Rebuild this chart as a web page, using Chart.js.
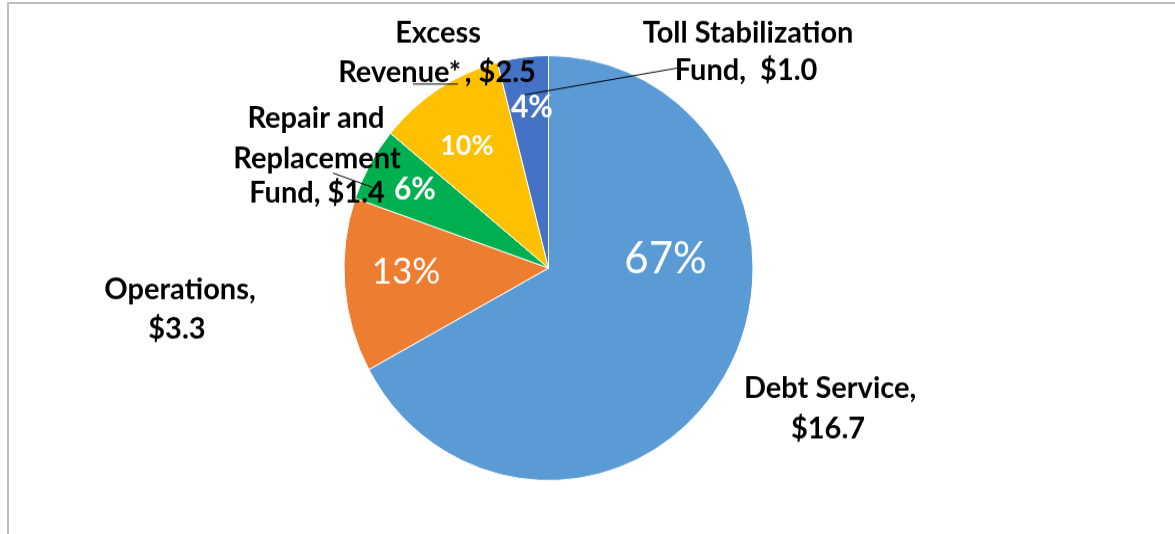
<!DOCTYPE html>
<html>
<head>
<meta charset="utf-8">
<script src="https://cdn.jsdelivr.net/npm/chart.js@4/dist/chart.umd.min.js"></script>
<style>
  html, body { margin: 0; padding: 0; background: #ffffff; overflow: hidden; }
  #frame { position: absolute; left: 7px; top: 2px; width: 1200px; height: 560px;
           border-left: 2px solid #bfbfbf; border-top: 2px solid #bfbfbf; box-sizing: border-box; }
  #wrap { position: absolute; left: 0; top: 0; width: 1175px; height: 514px;
          transform-origin: 0 0; transform: scaleY(1.0389); }
</style>
</head>
<body>
<div id="frame"></div>
<div id="wrap"><canvas id="c" width="1175" height="514" style="width:1175px;height:514px"></canvas></div>
<script>
// ---- data ----
const categories = ["Debt Service", "Operations", "Repair and Replacement Fund", "Excess Revenue*", "Toll Stabilization Fund"];
const values = [16.7, 3.3, 1.4, 2.5, 1.0];
const percentLabels = ["67%", "13%", "6%", "10%", "4%"];
const nameLines = [
  ["Debt Service,", "$16.7"],
  ["Operations,", "$3.3"],
  ["Repair and", "Replacement", "Fund, $1.4"],
  ["Excess", "Revenue*\u2009, $2.5"],
  ["Toll Stabilization", "Fund,  $1.0"]
];
const colors = ["#5B9BD5", "#ED7D31", "#00B050", "#FFC000", "#4472C4"];

// label placement, relative to pie center in units of radius (fx, baseline fy)
const pctPlace = [
  {fx: 0.572, fy: 0.024, font: "400 42px Lato"},
  {fx: -0.697, fy: 0.075, font: "400 35px Lato"},
  {fx: -0.653, fy: -0.325, font: "700 30px Lato"},
  {fx: -0.399, fy: -0.532, font: "700 27px Lato"},
  {fx: -0.081, fy: -0.711, font: "700 30px Lato"}
];
const namePlace = [
  {fx: [1.377, 1.367], fy: [0.612, 0.800]},
  {fx: [-1.802, -1.817], fy: [0.146, 0.334]},
  {fx: [-1.137, -1.132, -1.132], fy: [-0.659, -0.471, -0.306]},
  {fx: [-0.540, -0.545], fy: [-1.059, -0.875]},
  {fx: [0.976, 0.966], fy: [-1.059, -0.885]}
];
const leaders = [
  null, null,
  [[-1.054, -0.447], [-0.863, -0.381]],
  [[-0.663, -0.866], [-0.443, -0.866]],
  [[-0.125, -0.814], [0.628, -0.941]]
];

const labelPlugin = {
  id: "pieLabels",
  afterDatasetsDraw(chart) {
    const ctx = chart.ctx;
    const arcs = chart.getDatasetMeta(0).data;
    const cx = arcs[0].x, cy = arcs[0].y, r = arcs[0].outerRadius;
    ctx.save();
    ctx.textAlign = "center";
    ctx.textBaseline = "alphabetic";
    // leader lines
    ctx.strokeStyle = "#000000";
    ctx.lineWidth = 1;
    leaders.forEach(l => {
      if (!l) return;
      ctx.beginPath();
      ctx.moveTo(cx + l[0][0] * r, cy + l[0][1] * r);
      ctx.lineTo(cx + l[1][0] * r, cy + l[1][1] * r);
      ctx.stroke();
    });
    // percentages
    ctx.fillStyle = "#ffffff";
    percentLabels.forEach((t, i) => {
      const p = pctPlace[i];
      ctx.font = p.font;
      ctx.fillText(t, cx + p.fx * r, cy + p.fy * r);
    });
    // category names
    ctx.fillStyle = "#000000";
    ctx.font = "700 29px Lato";
    nameLines.forEach((lines, i) => {
      const p = namePlace[i];
      lines.forEach((t, j) => {
        ctx.fillText(t, cx + p.fx[j] * r, cy + p.fy[j] * r);
      });
    });
    ctx.restore();
  }
};

new Chart(document.getElementById("c"), {
  type: "pie",
  data: {
    labels: categories,
    datasets: [{
      data: values,
      backgroundColor: colors,
      borderColor: "#ffffff",
      borderWidth: 1,
      hoverOffset: 0
    }]
  },
  options: {
    responsive: false,
    animation: false,
    layout: { padding: { left: 0, right: 78, top: 53, bottom: 51 } },
    plugins: { legend: { display: false }, tooltip: { enabled: false } }
  },
  plugins: [labelPlugin]
});
</script>
</body>
</html>
